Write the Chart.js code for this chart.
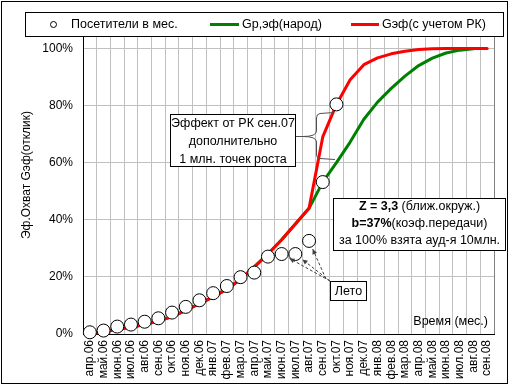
<!DOCTYPE html>
<html>
<head>
<meta charset="utf-8">
<script src="https://cdn.jsdelivr.net/npm/chart.js@4.4.1/dist/chart.umd.min.js"></script>
<style>
  html, body { margin: 0; padding: 0; background: #fff; }
  canvas { display: block; }
</style>
</head>
<body>
<canvas id="chart" width="510" height="386"></canvas>
<script>
// months on the category axis
const months = ['апр.06','май.06','июн.06','июл.06','авг.06','сен.06','окт.06','ноя.06','дек.06',
  'янв.07','фев.07','мар.07','апр.07','май.07','июн.07','июл.07','авг.07','сен.07','окт.07',
  'ноя.07','дек.07','янв.08','фев.08','мар.08','апр.08','май.08','июн.08','июл.08','авг.08','сен.08'];

// visitors per month (circles)
const visitors = [0.006, 0.012, 0.026, 0.033, 0.043, 0.055, 0.075, 0.095, 0.118, 0.143, 0.168,
  0.199, 0.215, 0.271, 0.28, 0.28, 0.326, 0.532, 0.804,
  null, null, null, null, null, null, null, null, null, null, null];

// Gp,эф (народ) - green
const gNarod = [0.0, 0.008, 0.016, 0.024, 0.033, 0.045, 0.061, 0.083, 0.106, 0.13, 0.157,
  0.192, 0.235, 0.28, 0.33, 0.385, 0.44, 0.532, 0.6, 0.672, 0.752, 0.812, 0.86, 0.903,
  0.94, 0.966, 0.984, 0.994, 0.999, null];

// Gэф (с учетом РК) - red
const gRk = [0.0, 0.008, 0.016, 0.024, 0.033, 0.045, 0.061, 0.083, 0.106, 0.13, 0.157,
  0.192, 0.235, 0.28, 0.33, 0.385, 0.44, 0.69, 0.804, 0.89, 0.943, 0.967, 0.981, 0.99,
  0.996, 0.999, 1.0, 1.0, 1.0, 1.0];

const yTicks = [0, 0.2, 0.4, 0.6, 0.8, 1.0];

const FONT = '"Liberation Sans", Arial, sans-serif';

// legend, notes and frame drawn on top
const notesPlugin = {
  id: 'notes',
  afterDraw(chart) {
    const ctx = chart.ctx;
    const x = chart.scales.x, y = chart.scales.y;
    ctx.save();

    // outer frame
    ctx.strokeStyle = '#000';
    ctx.lineWidth = 1;
    ctx.strokeRect(1.5, 1.5, 506, 382);

    // plot right border
    ctx.strokeStyle = '#808080';
    ctx.beginPath();
    ctx.moveTo(chart.chartArea.right + 0.5, chart.chartArea.top);
    ctx.lineTo(chart.chartArea.right + 0.5, chart.chartArea.bottom);
    ctx.stroke();

    // legend box
    ctx.fillStyle = '#fff';
    ctx.fillRect(25, 12, 478, 24);
    ctx.strokeStyle = '#000';
    ctx.strokeRect(25.5, 12.5, 478, 24);
    ctx.font = '12.5px ' + FONT;
    ctx.fillStyle = '#000';
    ctx.textBaseline = 'middle';
    ctx.textAlign = 'left';
    ctx.beginPath();
    ctx.arc(53.5, 24.5, 3, 0, Math.PI * 2);
    ctx.stroke();
    ctx.fillText('Посетители в мес.', 71, 24.5);
    ctx.lineWidth = 3;
    ctx.strokeStyle = '#008000';
    ctx.beginPath(); ctx.moveTo(210, 24.5); ctx.lineTo(239, 24.5); ctx.stroke();
    ctx.fillText('Gp,эф(народ)', 242, 24.5);
    ctx.strokeStyle = '#ff0000';
    ctx.beginPath(); ctx.moveTo(351, 24.5); ctx.lineTo(379, 24.5); ctx.stroke();
    ctx.fillText('Gэф(с учетом РК)', 382, 24.5);

    // y axis title
    ctx.save();
    ctx.translate(27, 175);
    ctx.rotate(-Math.PI / 2);
    ctx.textAlign = 'center';
    ctx.font = '12px ' + FONT;
    ctx.fillText('Эф.Охват Gэф(отклик)', 0, 0);
    ctx.restore();

    // x axis caption
    ctx.font = '12.5px ' + FONT;
    ctx.textAlign = 'right';
    ctx.fillText('Время (мес.)', 488, 322);

    // effect box
    ctx.lineWidth = 1;
    ctx.strokeStyle = '#000';
    ctx.fillStyle = '#fff';
    ctx.fillRect(170, 114, 126, 53);
    ctx.strokeRect(170.5, 114.5, 125, 52);
    ctx.fillStyle = '#000';
    ctx.textAlign = 'center';
    ctx.fillText('Эффект от РК сен.07', 233, 124);
    ctx.fillText('дополнительно', 233, 142);
    ctx.fillText('1 млн. точек роста', 233, 159.5);

    // brace
    ctx.strokeStyle = '#505050';
    ctx.beginPath();
    ctx.moveTo(334, 112.5);
    ctx.lineTo(320, 113.5);
    ctx.quadraticCurveTo(316.5, 114, 316.5, 118);
    ctx.lineTo(316.5, 131);
    ctx.quadraticCurveTo(316.5, 136.5, 303, 136.5);
    ctx.lineTo(296, 136.5);
    ctx.moveTo(303, 136.5);
    ctx.quadraticCurveTo(316.5, 136.5, 316.5, 142);
    ctx.lineTo(316.5, 154);
    ctx.quadraticCurveTo(316.5, 158.5, 320, 158.5);
    ctx.lineTo(335, 159.5);
    ctx.stroke();

    // Z box
    ctx.fillStyle = '#fff';
    ctx.fillRect(333, 198, 173, 52);
    ctx.strokeStyle = '#000';
    ctx.strokeRect(333.5, 198.5, 172, 52);
    ctx.fillStyle = '#000';
    const cx = 419.5;
    const mixed = (parts, yy) => {
      let w = 0;
      parts.forEach(p => { ctx.font = p[1] + ' 12.5px ' + FONT; w += ctx.measureText(p[0]).width; });
      let xx = cx - w / 2;
      ctx.textAlign = 'left';
      parts.forEach(p => {
        ctx.font = p[1] + ' 12.5px ' + FONT;
        ctx.fillText(p[0], xx, yy);
        xx += ctx.measureText(p[0]).width;
      });
    };
    mixed([['Z = 3,3', 'bold'], [' (ближ.окруж.)', 'normal']], 207);
    mixed([['b=37%', 'bold'], ['(коэф.передачи)', 'normal']], 224);
    mixed([['за 100% взята ауд-я 10млн.', 'normal']], 241);

    // summer box
    ctx.fillStyle = '#fff';
    ctx.fillRect(330, 281, 36, 20);
    ctx.strokeStyle = '#000';
    ctx.strokeRect(330.5, 281.5, 36, 19);
    ctx.fillStyle = '#000';
    ctx.textAlign = 'center';
    ctx.font = '12.5px ' + FONT;
    ctx.fillText('Лето', 348.5, 291.5);

    // dashed arrows from summer box to the summer circles
    ctx.strokeStyle = '#404040';
    ctx.fillStyle = '#404040';
    const from = [[330, 281], [330, 281], [326, 279]];
    [14, 15, 16].forEach((idx, k) => {
      const px = x.getPixelForValue(idx), py = y.getPixelForValue(visitors[idx]);
      const sx = from[k][0], sy = from[k][1];
      const d = Math.hypot(sx - px, sy - py);
      const ux = (sx - px) / d, uy = (sy - py) / d;
      const ex = px + ux * 9, ey = py + uy * 9;
      ctx.setLineDash([3, 2]);
      ctx.beginPath(); ctx.moveTo(sx, sy); ctx.lineTo(ex, ey); ctx.stroke();
      ctx.setLineDash([]);
      ctx.beginPath();
      ctx.moveTo(ex, ey);
      ctx.lineTo(ex + ux * 5 - uy * 2.5, ey + uy * 5 + ux * 2.5);
      ctx.lineTo(ex + ux * 5 + uy * 2.5, ey + uy * 5 - ux * 2.5);
      ctx.closePath();
      ctx.fill();
    });
    ctx.restore();
  }
};

new Chart(document.getElementById('chart'), {
  type: 'line',
  data: {
    labels: months,
    datasets: [
      {
        label: 'Посетители в мес.',
        data: visitors,
        showLine: false,
        pointRadius: 6.5,
        pointBackgroundColor: '#fff',
        pointBorderColor: '#000',
        pointBorderWidth: 1,
        clip: false,
        order: 0
      },
      {
        label: 'Gp,эф(народ)',
        data: gNarod,
        borderColor: '#008000',
        borderWidth: 3,
        borderCapStyle: 'round',
        borderJoinStyle: 'round',
        pointRadius: 0,
        clip: false,
        order: 2
      },
      {
        label: 'Gэф(с учетом РК)',
        data: gRk,
        borderColor: '#ff0000',
        borderWidth: 3,
        borderCapStyle: 'round',
        borderJoinStyle: 'round',
        pointRadius: 0,
        clip: false,
        order: 1
      }
    ]
  },
  options: {
    responsive: false,
    animation: false,
    layout: { padding: { top: 37, right: 16, left: 0, bottom: 0 } },
    plugins: {
      legend: { display: false },
      tooltip: { enabled: false }
    },
    scales: {
      x: {
        offset: true,
        grid: { offset: true, color: '#c0c0c0', drawTicks: false },
        border: { color: '#000' },
        ticks: {
          autoSkip: false,
          minRotation: 90,
          maxRotation: 90,
          padding: 6,
          color: '#000',
          font: { family: FONT, size: 12 }
        },
        afterFit: s => { s.height = 52; }
      },
      y: {
        min: 0,
        max: 1.04,
        afterBuildTicks: s => { s.ticks = yTicks.map(v => ({ value: v })); },
        afterFit: s => { s.width = 83; },
        grid: { color: '#c0c0c0', drawTicks: false },
        border: { color: '#000' },
        ticks: {
          padding: 10,
          color: '#000',
          font: { family: FONT, size: 12 },
          callback: v => Math.round(v * 100) + '%'
        }
      }
    }
  },
  plugins: [notesPlugin]
});
</script>
</body>
</html>
